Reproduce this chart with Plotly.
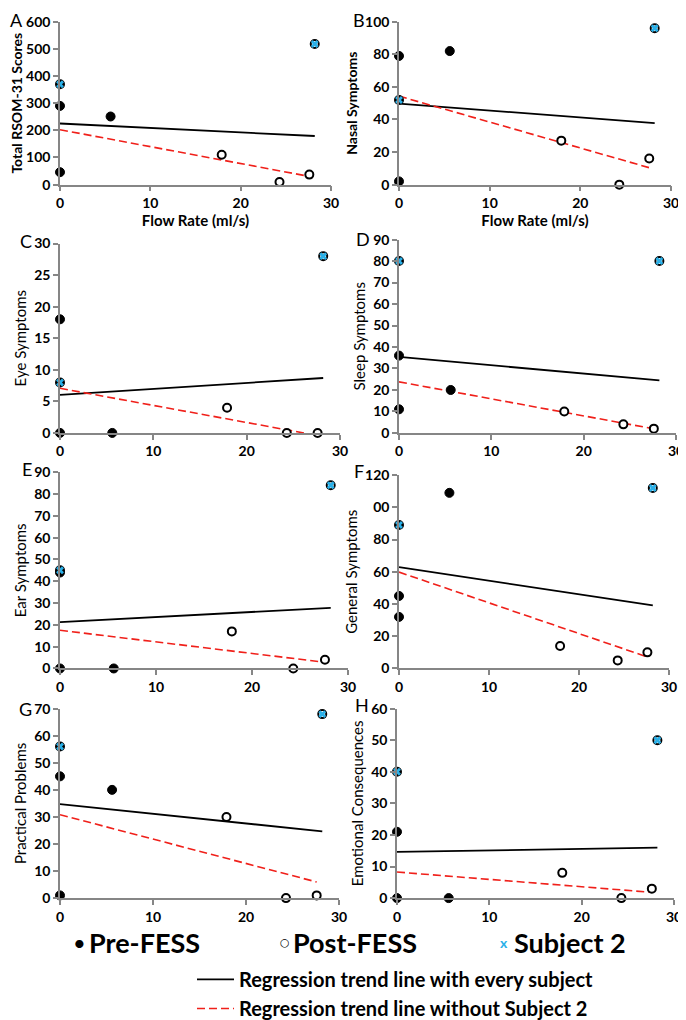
import numpy as np
import plotly.graph_objects as go

W, H = 686, 1020

# ---------------- data ----------------
flow_pre = [0, 0, 5.6]          # pre-FESS flow (ml/s), subjects other than Subject 2
flow_post = [17.9, 24.3, 27.6]  # post-FESS flow
flow_s2 = [0, 28.2]             # Subject 2: pre, post

total_pre = [290, 46, 251]
total_post = [110, 10, 37]
total_s2 = [370, 518]

nasal_pre = [79, 2, 82]
nasal_post = [27, 0, 16]
nasal_s2 = [52, 96]

eye_pre = [18, 0, 0]
eye_post = [4, 0, 0]
eye_s2 = [8, 28]

sleep_pre = [36, 11, 20]
sleep_post = [10, 4, 2]
sleep_s2 = [80, 80]

ear_pre = [44, 0, 0]
ear_post = [17, 0, 4]
ear_s2 = [45, 84]

general_pre = [45, 32, 109]
general_post = [14, 5, 10]
general_s2 = [89, 112]

practical_pre = [45, 1, 40]
practical_post = [30, 0, 1]
practical_s2 = [56, 68]

emotional_pre = [21, 0, 0]
emotional_post = [8, 0, 3]
emotional_s2 = [40, 50]

panel_letters = ["A", "B", "C", "D", "E", "F", "G", "H"]
y_titles = ["Total RSOM-31 Scores", "Nasal Symptoms", "Eye Symptoms", "Sleep Symptoms",
            "Ear Symptoms", "General Symptoms", "Practical Problems", "Emotional Consequences"]
y_max = [600, 100, 30, 90, 90, 120, 70, 60]
y_step = [100, 20, 5, 10, 10, 20, 10, 10]
x_ticks = [0, 10, 20, 30]
x_title = "Flow Rate (ml/s)"
legend_labels = ["Pre-FESS", "Post-FESS", "Subject 2"]
legend_symbols = ["•", "○", "x"]

pre_sets = [total_pre, nasal_pre, eye_pre, sleep_pre, ear_pre, general_pre, practical_pre, emotional_pre]
post_sets = [total_post, nasal_post, eye_post, sleep_post, ear_post, general_post, practical_post, emotional_post]
s2_sets = [total_s2, nasal_s2, eye_s2, sleep_s2, ear_s2, general_s2, practical_s2, emotional_s2]

# ---------------- layout (pixels: left, right, top, bottom of each plot area) ----------------
frames = [(52, 323, 14, 180), (391, 663, 14, 180),
          (52, 332, 240, 433), (391, 668, 236, 433),
          (52, 340, 473, 673), (391, 661, 476, 673),
          (52, 331, 714, 907), (389, 666, 714, 907)]
letter_pos = [(8, 12), (351, 12), (18, 237), (355, 235), (19, 470), (351, 472), (17, 714), (354, 710)]
title_sizes = [14, 14, 15, 15, 15, 15, 15, 15]

FONT = "Lato"
AXIS_GRAY = "#868686"
S2_BLUE = "#2ab0e8"
RED = "#f0201a"

fig = go.Figure()
layout = dict(width=W, height=H, margin=dict(l=0, r=0, t=0, b=0), autosize=False,
              template="none", paper_bgcolor="white", plot_bgcolor="white",
              showlegend=True)

for i in range(8):
    xa = "x" if i == 0 else f"x{i+1}"
    ya = "y" if i == 0 else f"y{i+1}"
    l, r, t, b = frames[i]
    pre, post, s2 = pre_sets[i], post_sets[i], s2_sets[i]

    # regression lines
    x_all = np.array(flow_pre + flow_post + flow_s2, dtype=float)
    y_all = np.array(pre + post + s2, dtype=float)
    x_wo = np.array(flow_pre + flow_post, dtype=float)
    y_wo = np.array(pre + post, dtype=float)
    k1, c1 = np.polyfit(x_all, y_all, 1)
    k2, c2 = np.polyfit(x_wo, y_wo, 1)
    xs1 = np.array([x_all.min(), x_all.max()])
    xs2 = np.array([x_wo.min(), x_wo.max()])

    fig.add_trace(go.Scatter(x=xs1, y=k1 * xs1 + c1, mode="lines", xaxis=xa, yaxis=ya,
                             line=dict(color="black", width=1.8),
                             name="Regression trend line with every subject",
                             legend="legend2", showlegend=(i == 0), hoverinfo="skip"))
    fig.add_trace(go.Scatter(x=xs2, y=k2 * xs2 + c2, mode="lines", xaxis=xa, yaxis=ya,
                             line=dict(color=RED, width=1.6, dash="8px,4px"),
                             name="Regression trend line without Subject 2",
                             legend="legend2", showlegend=(i == 0), hoverinfo="skip"))

    # pre-FESS (filled)
    fig.add_trace(go.Scatter(x=flow_pre, y=pre, mode="markers", xaxis=xa, yaxis=ya,
                             marker=dict(symbol="circle", size=9, color="black",
                                         line=dict(color="black", width=1)),
                             showlegend=False, cliponaxis=False))
    # post-FESS (open)
    fig.add_trace(go.Scatter(x=flow_post, y=post, mode="markers", xaxis=xa, yaxis=ya,
                             marker=dict(symbol="circle", size=8, color="white",
                                         line=dict(color="black", width=2)),
                             showlegend=False, cliponaxis=False))
    # subject 2 base circles (pre filled, post open)
    fig.add_trace(go.Scatter(x=flow_s2, y=s2, mode="markers", xaxis=xa, yaxis=ya,
                             marker=dict(symbol="circle", size=8, color=["black", "white"],
                                         line=dict(color="black", width=2)),
                             showlegend=False, cliponaxis=False))
    # subject 2 blue x
    fig.add_trace(go.Scatter(x=flow_s2, y=s2, mode="markers", xaxis=xa, yaxis=ya,
                             marker=dict(symbol="x", size=7, color=S2_BLUE,
                                         line=dict(width=0)),
                             showlegend=False, cliponaxis=False))

    tickvals = list(range(0, y_max[i] + 1, y_step[i]))
    ticktext = [str(v) for v in tickvals]
    if i == 5:
        ticktext = ["00" if v == 100 else str(v) for v in tickvals]

    xkey = "xaxis" if i == 0 else f"xaxis{i+1}"
    ykey = "yaxis" if i == 0 else f"yaxis{i+1}"
    layout[xkey] = dict(domain=[l / W, r / W], range=[0, 30], anchor=ya,
                        tickvals=x_ticks, showline=True, linecolor=AXIS_GRAY, linewidth=1.5,
                        ticks="outside", ticklen=5, tickwidth=1.5, tickcolor=AXIS_GRAY,
                        showgrid=False, zeroline=False, fixedrange=True,
                        tickfont=dict(family=FONT, size=14, color="black", weight="bold"),
                        title=dict(text=x_title if i < 2 else "", standoff=4,
                                   font=dict(family=FONT, size=15, color="black", weight="bold")))
    layout[ykey] = dict(domain=[1 - b / H, 1 - t / H], range=[0, y_max[i]], anchor=xa,
                        tickvals=tickvals, ticktext=ticktext,
                        showline=True, linecolor=AXIS_GRAY, linewidth=1.5,
                        ticks="outside", ticklen=5, tickwidth=1.5, tickcolor=AXIS_GRAY,
                        showgrid=False, zeroline=False, fixedrange=True,
                        tickfont=dict(family=FONT, size=14, color="black", weight="bold"),
                        title=dict(text=y_titles[i], standoff=4,
                                   font=dict(family=FONT, size=title_sizes[i], color="black",
                                             weight="bold" if i < 2 else "normal")))

annotations = []
for i in range(8):
    px, py = letter_pos[i]
    annotations.append(dict(text=panel_letters[i], x=px / W, y=1 - py / H, xref="paper", yref="paper",
                            xanchor="center", yanchor="middle", showarrow=False,
                            font=dict(family=FONT, size=18, color="black")))

# marker legend: symbols and labels
legend_font = dict(family=FONT, size=27, color="black", weight="bold")
sym_x = [71, 277, 496]
txt_x = [79, 283, 504]
sym_fonts = [dict(family=FONT, size=22, color="black"),
             dict(family="DejaVu Sans", size=11, color="black", weight="bold"),
             dict(family=FONT, size=14, color=S2_BLUE, weight="bold")]
for j in range(3):
    annotations.append(dict(text=legend_symbols[j], x=sym_x[j] / W, y=1 - 952 / H,
                            xref="paper", yref="paper", xanchor="center", yanchor="middle",
                            showarrow=False, font=sym_fonts[j]))
    annotations.append(dict(text=legend_labels[j], x=txt_x[j] / W, y=1 - 952 / H,
                            xref="paper", yref="paper", xanchor="left", yanchor="middle",
                            showarrow=False, font=legend_font))
layout["annotations"] = annotations

layout["legend2"] = dict(x=184 / W, y=1 - 970 / H, xanchor="left", yanchor="top",
                         bgcolor="rgba(0,0,0,0)", borderwidth=0, orientation="v",
                         font=dict(family=FONT, size=20, color="black", weight="bold"),
                         itemwidth=37, tracegroupgap=0)

fig.update_layout(**layout)
fig.write_html("out.html")
